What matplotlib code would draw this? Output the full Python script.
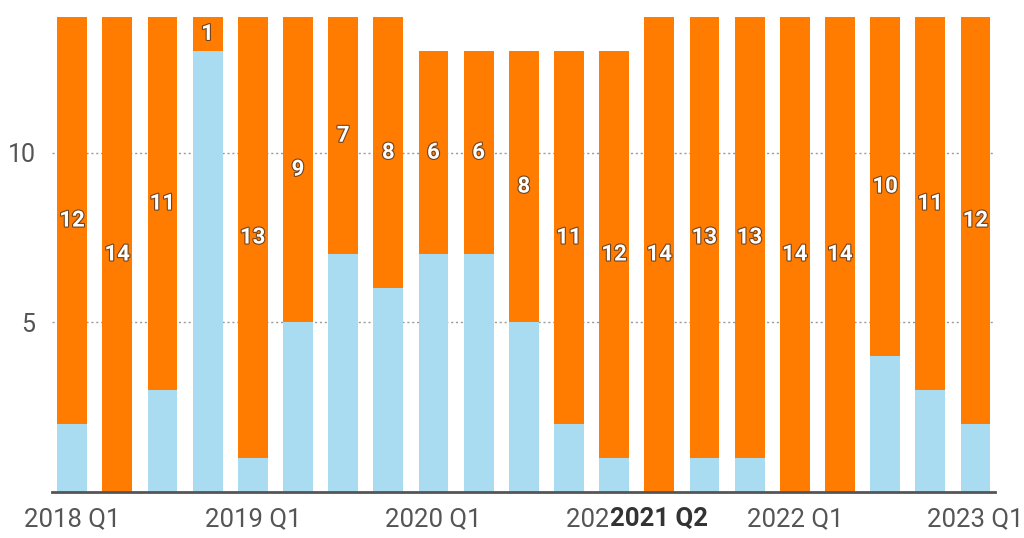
import matplotlib
matplotlib.use("Agg")
import matplotlib.pyplot as plt
import matplotlib.patheffects as pe
import numpy as np

plt.rcParams['font.family'] = ['Roboto', 'DejaVu Sans']

# quarters 2018 Q1 .. 2023 Q1
quarters = ['2018 Q1', '2018 Q2', '2018 Q3', '2018 Q4',
            '2019 Q1', '2019 Q2', '2019 Q3', '2019 Q4',
            '2020 Q1', '2020 Q2', '2020 Q3', '2020 Q4',
            '2021 Q1', '2021 Q2', '2021 Q3', '2021 Q4',
            '2022 Q1', '2022 Q2', '2022 Q3', '2022 Q4',
            '2023 Q1']
blue_vals = [2, 0, 3, 13, 1, 5, 7, 6, 7, 7, 5, 2, 1, 0, 1, 1, 0, 0, 4, 3, 2]
orange_vals = [12, 14, 11, 1, 13, 9, 7, 8, 6, 6, 8, 11, 12, 14, 13, 13, 14, 14, 10, 11, 12]
shown_ticks = ['2018 Q1', '2019 Q1', '2020 Q1', '2021 Q1', '2022 Q1', '2023 Q1']
highlight = '2021 Q2'

blue = '#a9dcf1'
orange = '#ff7c00'
grey = '#555555'

fig = plt.figure(figsize=(10.24, 5.38), dpi=100)
ax = fig.add_axes([0.051, 0.0855, 0.921, 0.883])

x = np.arange(len(quarters))
w = 0.66
ax.bar(x, blue_vals, width=w, color=blue, zorder=2)
ax.bar(x, orange_vals, width=w, bottom=blue_vals, color=orange, zorder=2)

# labels in the middle of the orange segments
for xi, b, o in zip(x, blue_vals, orange_vals):
    ax.text(xi, b + o / 2, str(o), ha='center', va='center', color='white',
            fontsize=16, fontweight='bold', zorder=4,
            path_effects=[pe.withStroke(linewidth=1.6, foreground='#6e4420')])

ax.set_xlim(-0.44, len(quarters) - 0.56)
ax.set_ylim(0, 14)

ax.set_yticks([5, 10])
ax.set_yticklabels(['5', '10'])
ax.yaxis.grid(True, linestyle=(0, (1.5, 2)), color='#999999', linewidth=1, zorder=1)
ax.tick_params(axis='y', length=0, pad=12, labelsize=18, labelcolor=grey)

tick_pos = [quarters.index(q) for q in shown_ticks]
ax.set_xticks(tick_pos)
ax.set_xticklabels(shown_ticks)
ax.tick_params(axis='x', length=0, pad=11, labelsize=18.5, labelcolor=grey)

# hovered category label drawn on top
hi = quarters.index(highlight)
ax.annotate(highlight, xy=(hi, 0), xytext=(0, -11), textcoords='offset points',
            ha='center', va='top', fontsize=18.5, fontweight='bold', color='#333333',
            bbox=dict(boxstyle='square,pad=0.1', fc='white', ec='none'),
            annotation_clip=False, zorder=5)

for s in ['top', 'right', 'left']:
    ax.spines[s].set_visible(False)
ax.spines['bottom'].set_color(grey)
ax.spines['bottom'].set_linewidth(2)
ax.spines['bottom'].set_zorder(3)

fig.savefig('out.png', dpi=100)
